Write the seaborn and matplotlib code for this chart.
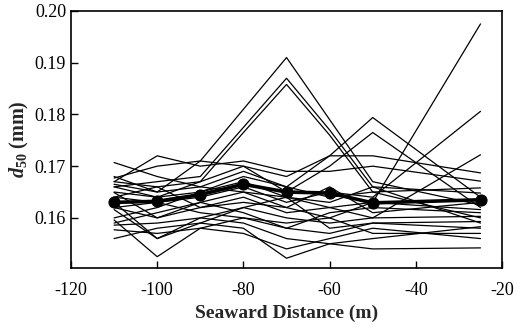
import numpy as np
import pandas as pd
import matplotlib
matplotlib.use('Agg')
import matplotlib.pyplot as plt
import seaborn as sns

# cross-shore positions (m)
distance = [-110, -100, -90, -80, -70, -60, -50, -25]

# individual survey profiles of d50 (mm)
profiles = [
    [0.1680, 0.1650, 0.1710, 0.1810, 0.1910, 0.1790, 0.1670, 0.1625],
    [0.1660, 0.1670, 0.1680, 0.1775, 0.1870, 0.1770, 0.1660, 0.1590],
    [0.1650, 0.1640, 0.1670, 0.1765, 0.1858, 0.1760, 0.1650, 0.1600],
    [0.1620, 0.1600, 0.1630, 0.1650, 0.1620, 0.1600, 0.1630, 0.1975],
    [0.1640, 0.1630, 0.1640, 0.1660, 0.1630, 0.1650, 0.1640, 0.1806],
    [0.1600, 0.1620, 0.1650, 0.1680, 0.1660, 0.1720, 0.1794, 0.1640],
    [0.1670, 0.1660, 0.1670, 0.1700, 0.1650, 0.1700, 0.1765, 0.1620],
    [0.1707, 0.1680, 0.1660, 0.1650, 0.1640, 0.1620, 0.1600, 0.1722],
    [0.1677, 0.1700, 0.1710, 0.1700, 0.1680, 0.1720, 0.1720, 0.1687],
    [0.1670, 0.1720, 0.1700, 0.1710, 0.1690, 0.1690, 0.1700, 0.1671],
    [0.1665, 0.1650, 0.1660, 0.1690, 0.1660, 0.1640, 0.1650, 0.1658],
    [0.1660, 0.1640, 0.1650, 0.1670, 0.1640, 0.1630, 0.1660, 0.1648],
    [0.1649, 0.1600, 0.1620, 0.1640, 0.1610, 0.1620, 0.1630, 0.1616],
    [0.1616, 0.1560, 0.1600, 0.1620, 0.1600, 0.1590, 0.1600, 0.1603],
    [0.1596, 0.1525, 0.1580, 0.1600, 0.1580, 0.1570, 0.1590, 0.1593],
    [0.1586, 0.1590, 0.1600, 0.1590, 0.1560, 0.1550, 0.1560, 0.1583],
    [0.1577, 0.1570, 0.1580, 0.1570, 0.1540, 0.1560, 0.1580, 0.1560],
    [0.1560, 0.1580, 0.1590, 0.1580, 0.1522, 0.1550, 0.1540, 0.1542],
    [0.1620, 0.1630, 0.1610, 0.1600, 0.1590, 0.1600, 0.1570, 0.1570],
    [0.1590, 0.1610, 0.1630, 0.1610, 0.1580, 0.1610, 0.1620, 0.1610],
    [0.1640, 0.1660, 0.1620, 0.1630, 0.1620, 0.1660, 0.1610, 0.1630],
    [0.1630, 0.1560, 0.1590, 0.1620, 0.1640, 0.1580, 0.1590, 0.1580],
]

# mean profile
mean_d50 = [0.1630, 0.1632, 0.1645, 0.1665, 0.1650, 0.1648, 0.1629, 0.1635]

rows = []
for i, p in enumerate(profiles):
    for x, y in zip(distance, p):
        rows.append({'run': i, 'distance': x, 'd50': y})
df = pd.DataFrame(rows)
mean_df = pd.DataFrame({'distance': distance, 'd50': mean_d50})

sns.set_style('ticks')
plt.rcParams['font.family'] = ['Liberation Serif', 'DejaVu Serif']
plt.rcParams['axes.unicode_minus'] = False
plt.rcParams['mathtext.fontset'] = 'custom'
plt.rcParams['mathtext.it'] = 'Liberation Serif:bold:italic'
plt.rcParams['mathtext.rm'] = 'Liberation Serif:bold'

fig = plt.figure(figsize=(5.2, 3.33), dpi=100)
ax = fig.add_axes([0.1365, 0.195, 0.829, 0.772])

sns.lineplot(data=df, x='distance', y='d50', units='run', estimator=None,
             color='black', lw=0.9, ax=ax, legend=False)
sns.lineplot(data=mean_df, x='distance', y='d50', color='black', lw=2.6,
             marker='o', markersize=8, markeredgecolor='black', ax=ax)

ax.set_xlim(-120, -20)
ax.set_ylim(0.1503, 0.200)
ax.set_xticks([-120, -100, -80, -60, -40, -20])
ax.set_yticks([0.16, 0.17, 0.18, 0.19, 0.20])
ax.yaxis.set_major_formatter(matplotlib.ticker.FormatStrFormatter('%.2f'))
ax.tick_params(direction='in', length=5, width=1, labelsize=13, colors='black')
ax.tick_params(axis='x', pad=10)
for s in ax.spines.values():
    s.set_color('black')
    s.set_linewidth(1.2)

ax.set_xlabel('Seaward Distance (m)', fontsize=14, fontweight='bold', labelpad=4)
ax.set_ylabel(r'$d_{50}$ (mm)', fontsize=14.5, fontweight='bold', labelpad=3)

fig.savefig('out.png', dpi=100)
